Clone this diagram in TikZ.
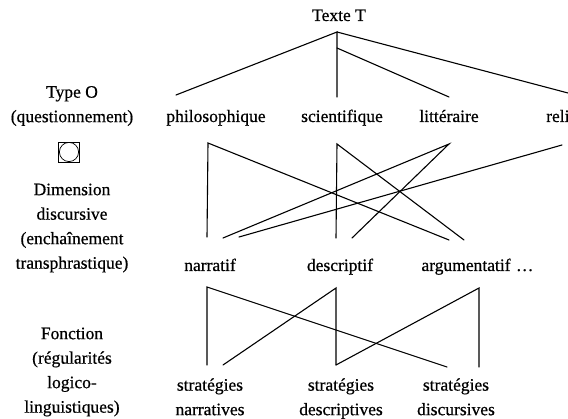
\documentclass[tikz,border=0pt]{standalone}
\usepackage{fontspec}
\setmainfont{Liberation Serif}
\newfontfamily\scanfont{Liberation Serif}[FakeBold=0.6]
\usepackage{tikz}
\usetikzlibrary{positioning}
\tikzset{lbl/.style={inner sep=0pt, align=center, font=\scanfont\fontsize{17.5}{24.5}\selectfont},
    side/.style={lbl},
    row/.style={lbl, anchor=base},
    link/.style={draw, line width=1.1pt, line cap=round, line join=miter}}

\begin{document}
\begin{tikzpicture}[x=1pt, y=-1pt]
  \useasboundingbox (0,0) rectangle (568,419);

  % Left column
  \node[side] (typeO) at (72,106) {Type O\\(questionnement)};
  \node[draw, line width=0.7pt, minimum width=21pt, minimum height=20pt, inner sep=0pt] (symb) at (69,152) {};
  \draw[line width=0.7pt] (symb.center) circle (9.6pt);
  \node[side] (dimension) at (72,228) {Dimension\\discursive\\(enchaînement\\transphrastique)};
  \node[side] (fonction) at (72,372) {Fonction\\(régularités\\logico-\\linguistiques)};

  % Nodes
  \node[row] (texte)  at (339,21)  {Texte T};
  \node[row] (philo)  at (216,122) {philosophique};
  \node[row] (scient) at (342,122) {scientifique};
  \node[row] (litt)   at (449,122) {littéraire};
  \node[row, anchor=base west] (relig) at (546,122) {religieux};

  \node[row] (narr)  at (210,271) {narratif};
  \node[row] (descr) at (340,271) {descriptif};
  \node[row] (argu)  at (466,271) {argumentatif};
  \node[row, anchor=base west] (etc) at ([xshift=5pt]argu.base east) {…};

  \node[lbl] (snarr)  at (210,398) {\strut stratégies\\narratives\strut};
  \node[lbl] (sdescr) at (341,398) {\strut stratégies\\descriptives\strut};
  \node[lbl] (sdisc)  at (456,398) {\strut stratégies\\discursives\strut};

  % End points of the links
  \coordinate (apex) at (337,32);
  \coordinate (fork) at (337,48);
  \coordinate (philo-in)  at (176,95);
  \coordinate (scient-in) at (337,97);
  \coordinate (litt-in)   at (449,97);
  \coordinate (relig-in)  at (568,93);

  \coordinate (philo-out)  at (208,143);
  \coordinate (scient-out) at (337,144);
  \coordinate (litt-out)   at (449,144);
  \coordinate (relig-out)  at (562,145);

  \coordinate (narr-a)  at (207,237);
  \coordinate (narr-b)  at (223,238);
  \coordinate (narr-c)  at (239,237);
  \coordinate (descr-a) at (336,238);
  \coordinate (descr-b) at (352,238);
  \coordinate (argu-a)  at (449,240);
  \coordinate (argu-b)  at (464,240);

  \coordinate (narr-out)  at (207,287);
  \coordinate (descr-out) at (336,288);
  \coordinate (argu-out)  at (479,288);

  \coordinate (snarr-a)  at (207,365);
  \coordinate (snarr-b)  at (223,365);
  \coordinate (sdescr-a) at (336,365);
  \coordinate (sdisc-a)  at (447,367);
  \coordinate (sdisc-b)  at (479,367);

  % Texte -> types
  \draw[link] (philo-in) -- (apex) -- (scient-in);
  \draw[link] (apex) -- (relig-in);
  \draw[link] (fork) -- (litt-in);

  % types -> dimension discursive
  \draw[link] (narr-a) -- (philo-out) -- (argu-a);
  \draw[link] (descr-a) -- (scient-out) -- (argu-b);
  \draw[link] (narr-b) -- (litt-out) -- (descr-b);
  \draw[link] (relig-out) -- (narr-c);

  % dimension -> fonction
  \draw[link] (snarr-a) -- (narr-out) -- (sdisc-a);
  \draw[link] (snarr-b) -- (descr-out) -- (sdescr-a);
  \draw[link] (sdescr-a) -- (argu-out) -- (sdisc-b);

\end{tikzpicture}
\end{document}
